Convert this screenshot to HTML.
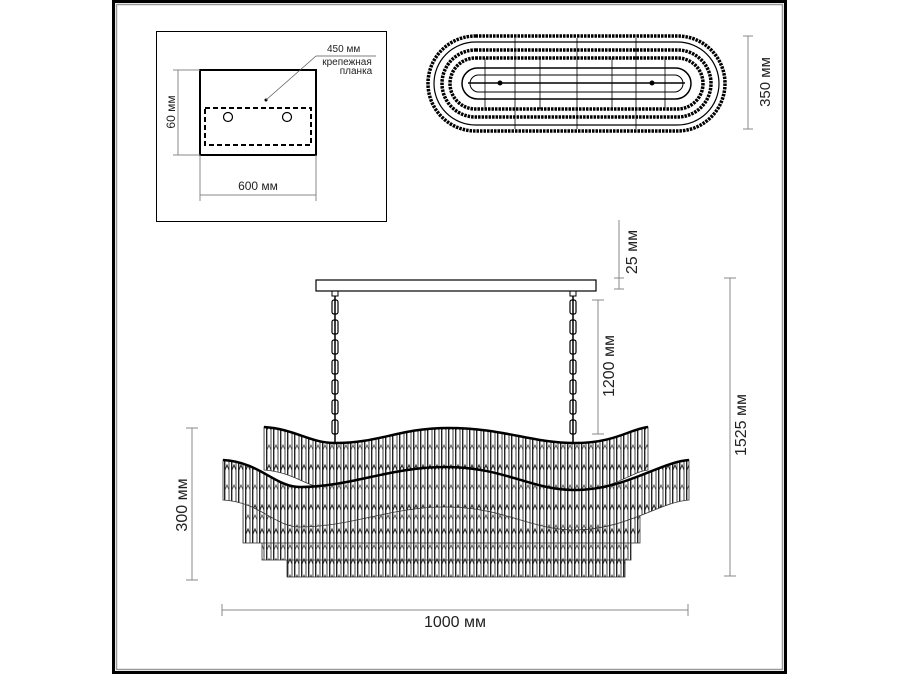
<!DOCTYPE html>
<html><head><meta charset="utf-8"><style>
html,body{margin:0;padding:0;background:#fff;width:900px;height:675px;overflow:hidden}
svg{display:block}
text{font-family:"Liberation Sans",sans-serif;fill:#222}
</style></head><body>
<svg width="900" height="675" viewBox="0 0 900 675" xmlns="http://www.w3.org/2000/svg">
<defs>
<pattern id="cr" x="0" y="0" width="7" height="40" patternUnits="userSpaceOnUse">
<rect width="7" height="40" fill="#fff"/>
<line x1="0.7" y1="0" x2="0.7" y2="40" stroke="#222" stroke-width="1.4"/>
<line x1="5" y1="0" x2="5" y2="40" stroke="#444" stroke-width="1"/>
<path d="M1 30 L3 25 L5 30" fill="none" stroke="#222" stroke-width="1"/>
<path d="M1 10 L3 5 L5 10" fill="none" stroke="#444" stroke-width="0.8"/>
</pattern>
<pattern id="cr2" x="0" y="0" width="7" height="30" patternUnits="userSpaceOnUse">
<rect width="7" height="30" fill="#fff"/>
<line x1="0.7" y1="0" x2="0.7" y2="30" stroke="#222" stroke-width="1.4"/>
<line x1="5" y1="0" x2="5" y2="30" stroke="#444" stroke-width="1"/>
<path d="M1 24 L3 19 L5 24" fill="none" stroke="#222" stroke-width="1"/>
<path d="M1 10 L3 5 L5 10" fill="none" stroke="#444" stroke-width="0.8"/>
</pattern>
</defs>
<rect x="113.5" y="1.5" width="672" height="671" fill="none" stroke="#000" stroke-width="3"/>
<rect x="116.5" y="4.5" width="666" height="665" fill="none" stroke="#999" stroke-width="1.5"/>
<rect x="156.5" y="31.5" width="230" height="190" fill="none" stroke="#000" stroke-width="1"/>
<rect x="200" y="70" width="116" height="85" fill="none" stroke="#000" stroke-width="2"/>
<rect x="205" y="108" width="106" height="37" fill="none" stroke="#000" stroke-width="2" stroke-dasharray="5,3"/>
<circle cx="228" cy="117" r="4.5" fill="none" stroke="#000" stroke-width="1.2"/>
<circle cx="287" cy="117" r="4.5" fill="none" stroke="#000" stroke-width="1.2"/>
<circle cx="266" cy="100" r="1.5" fill="#000"/>
<line x1="266" y1="100" x2="316" y2="56" stroke="#555" stroke-width="0.7"/>
<line x1="316" y1="56" x2="376" y2="56" stroke="#555" stroke-width="0.7"/>
<text x="327" y="52" font-size="10">450 мм</text>
<text x="347" y="65" font-size="10" text-anchor="middle">крепежная</text>
<text x="356" y="74" font-size="10" text-anchor="middle">планка</text>
<line x1="178" y1="70" x2="178" y2="155" stroke="#888"/>
<line x1="173" y1="70" x2="200" y2="70" stroke="#888"/>
<line x1="173" y1="155" x2="200" y2="155" stroke="#888"/>
<text x="0" y="0" font-size="12" text-anchor="middle" transform="translate(175,112) rotate(-90)">60 мм</text>
<line x1="200" y1="155" x2="200" y2="201" stroke="#888"/>
<line x1="316" y1="155" x2="316" y2="201" stroke="#888"/>
<line x1="200" y1="195" x2="316" y2="195" stroke="#888"/>
<text x="258" y="190" font-size="12" text-anchor="middle">600 мм</text>
<g fill="none" stroke="#000">
<rect x="428" y="36" width="297" height="95" rx="47.5" stroke-width="3.5" stroke-dasharray="2.5,1"/>
<rect x="434" y="42" width="285" height="83" rx="41.5" stroke-width="1.2"/>
<rect x="442" y="50" width="269" height="67" rx="33.5" stroke-width="3.5" stroke-dasharray="2.5,1"/>
<rect x="450" y="58" width="253" height="51" rx="25.5" stroke-width="3.5" stroke-dasharray="2.5,1"/>
<rect x="462" y="68" width="229" height="31" rx="15.5" stroke-width="1.5"/>
<rect x="470" y="75" width="213" height="17" rx="8.5" stroke-width="1"/>
<line x1="468" y1="83" x2="685" y2="83" stroke-width="1.5"/>
<line x1="515" y1="38" x2="515" y2="129" stroke-width="0.8"/>
<line x1="577" y1="38" x2="577" y2="129" stroke-width="0.8"/>
<line x1="636" y1="38" x2="636" y2="129" stroke-width="0.8"/>
<line x1="485" y1="58" x2="485" y2="109" stroke-width="0.8"/>
<line x1="540" y1="58" x2="540" y2="109" stroke-width="0.8"/>
<line x1="612" y1="58" x2="612" y2="109" stroke-width="0.8"/>
<line x1="665" y1="58" x2="665" y2="109" stroke-width="0.8"/>
<circle cx="500" cy="83" r="2" fill="#000"/>
<circle cx="652" cy="83" r="2" fill="#000"/>
</g>
<line x1="748" y1="36" x2="748" y2="129" stroke="#888"/>
<line x1="743" y1="36" x2="753" y2="36" stroke="#888"/>
<line x1="743" y1="129" x2="753" y2="129" stroke="#888"/>
<text x="0" y="0" font-size="15" text-anchor="middle" transform="translate(770,82) rotate(-90)">350 мм</text>
<rect x="316" y="280" width="280" height="11" fill="#fff" stroke="#000" stroke-width="1.2"/>
<rect x="332" y="291" width="6" height="5" fill="none" stroke="#000"/>
<rect x="570" y="291" width="6" height="5" fill="none" stroke="#000"/>
<g fill="none" stroke="#000" stroke-width="1.5">
<path d="M335 296 V445"/>
<path d="M573 296 V445"/>
</g>
<g fill="none" stroke="#000" stroke-width="1.2">
<rect x="332" y="300" width="6" height="14" rx="2"/><rect x="332" y="320" width="6" height="14" rx="2"/><rect x="332" y="340" width="6" height="14" rx="2"/><rect x="332" y="360" width="6" height="14" rx="2"/><rect x="332" y="380" width="6" height="14" rx="2"/><rect x="332" y="400" width="6" height="14" rx="2"/><rect x="332" y="420" width="6" height="14" rx="2"/>
<rect x="570" y="300" width="6" height="14" rx="2"/><rect x="570" y="320" width="6" height="14" rx="2"/><rect x="570" y="340" width="6" height="14" rx="2"/><rect x="570" y="360" width="6" height="14" rx="2"/><rect x="570" y="380" width="6" height="14" rx="2"/><rect x="570" y="400" width="6" height="14" rx="2"/><rect x="570" y="420" width="6" height="14" rx="2"/>
</g>
<rect x="287" y="520" width="338" height="57" fill="url(#cr2)" stroke="#333" stroke-width="0.8"/>
<rect x="262" y="510" width="369" height="50" fill="url(#cr2)" stroke="#333" stroke-width="0.8"/>
<rect x="243" y="500" width="397" height="43" fill="url(#cr2)" stroke="#333" stroke-width="0.8"/>
<path d="M264 427 C295 429 310 443 335 443 C380 443 400 428 448 428 C505 428 530 443 575 443 C615 443 630 429 648 427 L648 470 C630 472 615 490 575 490 C530 490 505 475 448 475 C400 475 380 490 335 490 C310 490 295 472 264 470 Z" fill="url(#cr)" stroke="#333" stroke-width="0.8"/>
<path d="M264 427 C295 429 310 443 335 443 C380 443 400 428 448 428 C505 428 530 443 575 443 C615 443 630 429 648 427" fill="none" stroke="#000" stroke-width="2.5"/>
<path d="M223 460 C260 462 275 487 300 487 C350 487 390 467 445 467 C505 467 530 490 575 490 C625 490 660 462 689 460 L689 500 C660 502 625 530 575 530 C530 530 505 507 445 507 C390 507 350 527 300 527 C275 527 260 502 223 500 Z" fill="url(#cr)" stroke="#333" stroke-width="0.8"/>
<path d="M223 460 C260 462 275 487 300 487 C350 487 390 467 445 467 C505 467 530 490 575 490 C625 490 660 462 689 460" fill="none" stroke="#000" stroke-width="2.5"/>
<g stroke="#888" stroke-width="1">
<line x1="192" y1="428" x2="192" y2="580"/><line x1="186" y1="428" x2="198" y2="428"/><line x1="186" y1="580" x2="198" y2="580"/>
<line x1="222" y1="610" x2="688" y2="610"/><line x1="222" y1="604" x2="222" y2="616"/><line x1="688" y1="604" x2="688" y2="616"/>
<line x1="730" y1="278" x2="730" y2="576"/><line x1="724" y1="278" x2="736" y2="278"/><line x1="724" y1="576" x2="736" y2="576"/>
<line x1="598" y1="300" x2="598" y2="434"/><line x1="592" y1="300" x2="604" y2="300"/><line x1="592" y1="434" x2="604" y2="434"/>
<line x1="619" y1="220" x2="619" y2="289"/><line x1="614" y1="278" x2="624" y2="278"/><line x1="614" y1="289" x2="624" y2="289"/>
</g>
<text x="0" y="0" font-size="16" text-anchor="middle" transform="translate(187,505) rotate(-90)">300 мм</text>
<text x="455" y="627" font-size="16" text-anchor="middle">1000 мм</text>
<text x="0" y="0" font-size="16" text-anchor="middle" transform="translate(746,425) rotate(-90)">1525 мм</text>
<text x="0" y="0" font-size="16" text-anchor="middle" transform="translate(614,366) rotate(-90)">1200 мм</text>
<text x="0" y="0" font-size="16" text-anchor="middle" transform="translate(637,252) rotate(-90)">25 мм</text>
</svg>
</body></html>
